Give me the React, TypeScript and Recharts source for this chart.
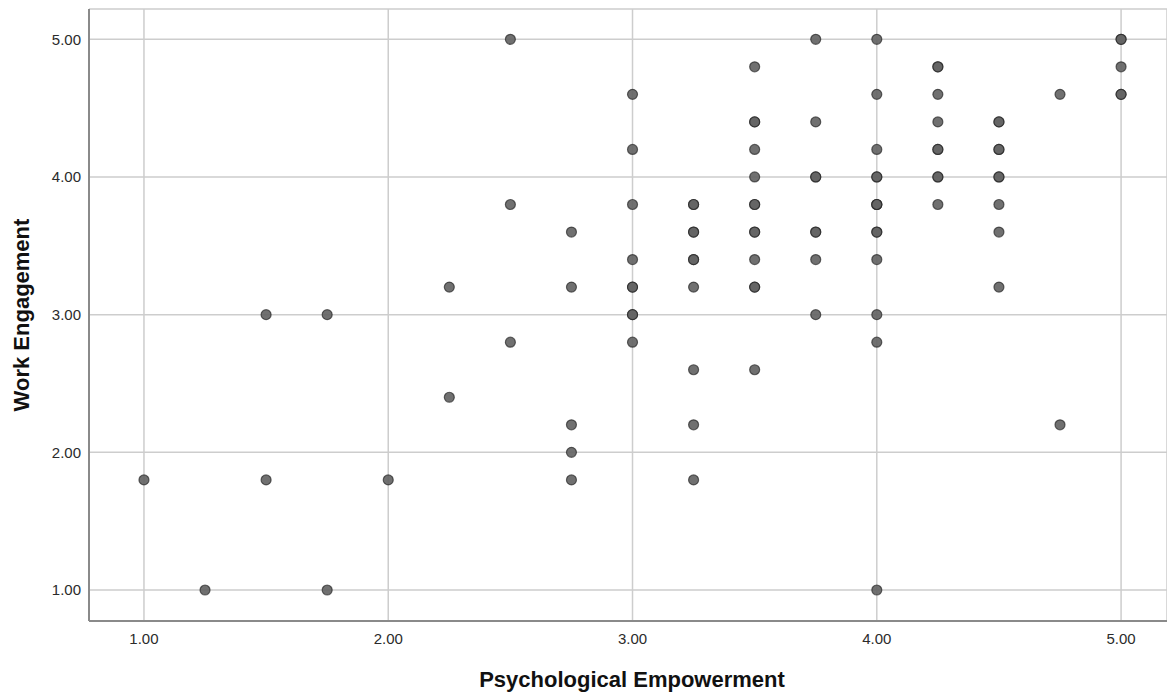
import { ScatterChart, Scatter, XAxis, YAxis, CartesianGrid, Label } from 'recharts';

// Psychological Empowerment (x) paired with Work Engagement (y), one column per line
const peScores = [
  1.0,
  1.25,
  1.5, 1.5,
  1.75, 1.75,
  2.0,
  2.25, 2.25,
  2.5, 2.5, 2.5,
  2.75, 2.75, 2.75, 2.75, 2.75,
  3.0, 3.0, 3.0, 3.0, 3.0, 3.0, 3.0,
  3.25, 3.25, 3.25, 3.25, 3.25, 3.25, 3.25,
  3.5, 3.5, 3.5, 3.5, 3.5, 3.5, 3.5, 3.5, 3.5,
  3.75, 3.75, 3.75, 3.75, 3.75, 3.75,
  4.0, 4.0, 4.0, 4.0, 4.0, 4.0, 4.0, 4.0, 4.0, 4.0,
  4.25, 4.25, 4.25, 4.25, 4.25, 4.25,
  4.5, 4.5, 4.5, 4.5, 4.5, 4.5,
  4.75, 4.75,
  5.0, 5.0, 5.0,
];
const weScores = [
  1.8,
  1.0,
  3.0, 1.8,
  3.0, 1.0,
  1.8,
  3.2, 2.4,
  5.0, 3.8, 2.8,
  3.6, 3.2, 2.2, 2.0, 1.8,
  4.6, 4.2, 3.8, 3.4, 3.2, 3.0, 2.8,
  3.8, 3.6, 3.4, 3.2, 2.6, 2.2, 1.8,
  4.8, 4.4, 4.2, 4.0, 3.8, 3.6, 3.4, 3.2, 2.6,
  5.0, 4.4, 4.0, 3.6, 3.4, 3.0,
  5.0, 4.6, 4.2, 4.0, 3.8, 3.6, 3.4, 3.0, 2.8, 1.0,
  4.8, 4.6, 4.4, 4.2, 4.0, 3.8,
  4.4, 4.2, 4.0, 3.8, 3.6, 3.2,
  4.6, 2.2,
  5.0, 4.8, 4.6,
];

// cases that sit on top of another one (drawn darker in the original)
const repeatPe = [3.0, 3.0, 3.25, 3.25, 3.25, 3.5, 3.5, 3.5, 3.5, 3.75, 3.75, 4.0, 4.0, 4.0, 4.0, 4.25, 4.25, 4.25, 4.5, 4.5, 4.5, 5.0, 5.0];
const repeatWe = [3.2, 3.0, 3.4, 3.8, 3.6, 4.4, 3.8, 3.6, 3.2, 4.0, 3.6, 4.0, 3.8, 3.8, 3.6, 4.8, 4.2, 4.0, 4.4, 4.2, 4.0, 5.0, 4.6];

const xTicks = [1, 2, 3, 4, 5];
const yTicks = [1, 2, 3, 4, 5];

const cases = peScores.map((pe, i) => ({ pe, we: weScores[i] }));
const repeats = repeatPe.map((pe, i) => ({ pe, we: repeatWe[i] }));

const Dot = (props: any) => (
  <circle
    cx={props.cx}
    cy={props.cy}
    r={5}
    fill="#646464"
    fillOpacity={0.92}
    stroke="#1e1e1e"
    strokeOpacity={0.65}
    strokeWidth={1.2}
  />
);

const tickStyle = { fontSize: 15, fill: '#2b2b2b', fontFamily: 'Arial, "Liberation Sans", sans-serif' };
const titleStyle = { fontSize: 22, fontWeight: 700, fill: '#111', fontFamily: 'Arial, "Liberation Sans", sans-serif' };

export default function App() {
  return (
    <div style={{ position: 'absolute', left: 0, top: 0, width: 1167, height: 693, background: '#fff' }}>
      <ScatterChart width={1167} height={693} margin={{ top: 9, right: 0, bottom: 0, left: 0 }}>
        <CartesianGrid stroke="#cdcdcd" strokeWidth={1.5} />
        <XAxis
          type="number"
          dataKey="pe"
          domain={[0.775, 5.188]}
          ticks={xTicks}
          height={72}
          tickLine={false}
          tickMargin={6}
          axisLine={{ stroke: '#8a8a8a', strokeWidth: 2 }}
          tick={tickStyle}
          tickFormatter={(v: number) => v.toFixed(2)}
          allowDataOverflow
        >
          <Label
            value="Psychological Empowerment"
            position="insideBottom"
            offset={6}
            dx={4}
            style={titleStyle}
          />
        </XAxis>
        <YAxis
          type="number"
          dataKey="we"
          domain={[0.775, 5.22]}
          ticks={yTicks}
          width={89}
          tickLine={false}
          tickMargin={2}
          axisLine={{ stroke: '#8a8a8a', strokeWidth: 2 }}
          tick={tickStyle}
          tickFormatter={(v: number) => v.toFixed(2)}
          allowDataOverflow
        >
          <Label
            value="Work Engagement"
            angle={-90}
            position="insideLeft"
            offset={21}
            style={{ ...titleStyle, textAnchor: 'middle' }}
          />
        </YAxis>
        <Scatter data={cases} shape={Dot} isAnimationActive={false} />
        <Scatter data={repeats} shape={Dot} isAnimationActive={false} />
      </ScatterChart>
    </div>
  );
}
